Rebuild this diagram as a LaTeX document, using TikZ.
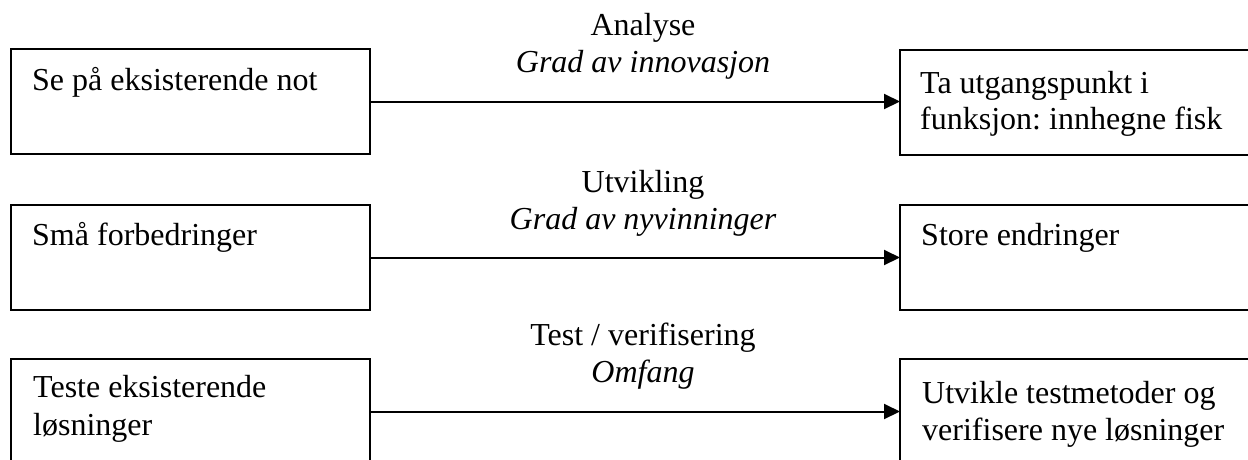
\documentclass[tikz,border=0pt]{standalone}
\usepackage{fontspec}
\setmainfont{Liberation Serif}
\usetikzlibrary{arrows.meta}
\frenchspacing
\begin{document}
\begin{tikzpicture}[x=1pt,y=-1pt,
  every node/.style={font=\fontsize{32}{37.5}\selectfont},
  boxstyle/.style={draw, line width=2pt, minimum width=359pt, minimum height=105pt,
    inner sep=0pt, outer sep=0pt, anchor=north west},
  txt/.style={anchor=base west, inner sep=0pt},
  lbl/.style={anchor=base, inner sep=0pt},
  conn/.style={line width=2pt, -{Triangle[length=16pt,width=15pt]}}]
\useasboundingbox (0,0) rectangle (1248,459);
\clip (0,0) rectangle (1248,459);
% boxes
\node[boxstyle] (a1) at (11,49) {};
\node[boxstyle] (b1) at (900,50) {};
\node[boxstyle] (a2) at (11,205) {};
\node[boxstyle] (b2) at (900,205) {};
\node[boxstyle] (a3) at (11,359) {};
\node[boxstyle] (b3) at (900,359) {};
% box texts
\node[txt] (ta1) at (32,90) {Se på eksisterende not};
\node[txt] (tb1a) at (920,93) {Ta utgangspunkt i};
\node[txt] (tb1b) at (920,129) {funksjon: innhegne fisk};
\node[txt] (ta2) at (32,245.5) {Små forbedringer};
\node[txt] (tb2) at (921,245.5) {Store endringer};
\node[txt] (ta3a) at (33,397) {Teste eksisterende};
\node[txt] (ta3b) at (33,435) {løsninger};
\node[txt] (tb3a) at (922,403) {Utvikle testmetoder og};
\node[txt] (tb3b) at (922,440) {verifisere nye løsninger};
% connectors
\draw[conn] (a1.east) -- (b1.west |- a1.east);
\draw[conn] (a2.east) -- (b2.west);
\draw[conn] (a3.east) -- (b3.west);
% labels
\node[lbl] (l1a) at (643,35) {Analyse};
\node[lbl] (l1b) at (643,72) {\itshape Grad av innovasjon};
\node[lbl] (l2a) at (643,192) {Utvikling};
\node[lbl] (l2b) at (643,229) {\itshape Grad av nyvinninger};
\node[lbl] (l3a) at (643,345) {Test / verifisering};
\node[lbl] (l3b) at (643,382) {\itshape Omfang};
\end{tikzpicture}
\end{document}
